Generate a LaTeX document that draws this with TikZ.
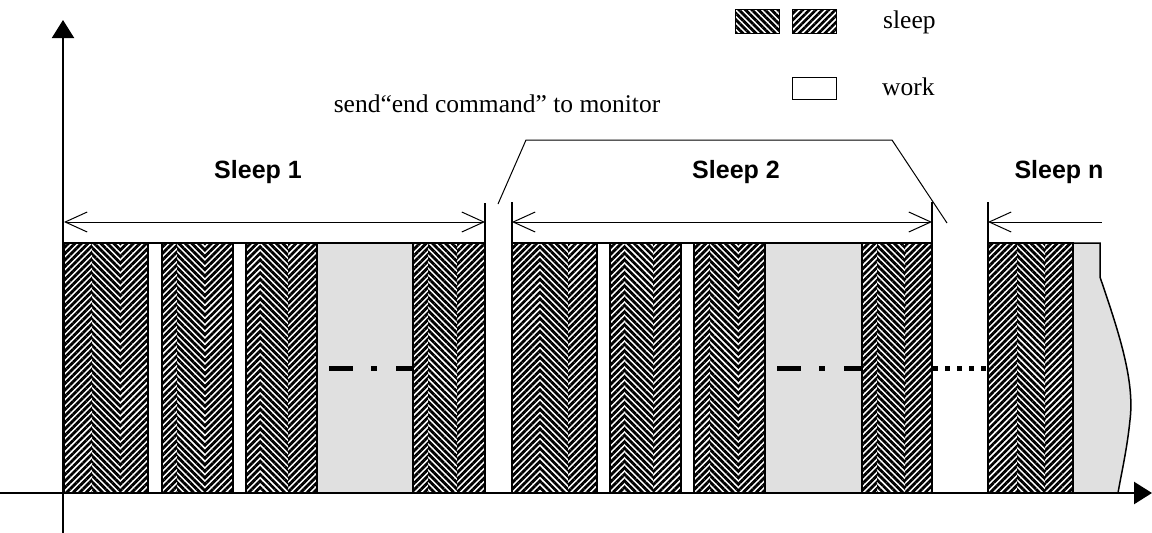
\documentclass[tikz,border=0pt]{standalone}
\usepackage{fontspec}
\setmainfont{Liberation Serif}
\setsansfont{Liberation Sans}
\usetikzlibrary{arrows.meta,patterns.meta}

\begin{document}
\begin{tikzpicture}[x=1pt,y=-1pt,
  axis/.style={line width=2.5pt,-{Triangle[length=18pt,width=22pt]}},
  dim/.style={line width=1pt,{Straight Barb[length=22pt,width=20pt,line width=1pt]}-{Straight Barb[length=22pt,width=20pt,line width=1pt]}},
  tick/.style={line width=1.5pt},
  frame/.style={draw,line width=1.5pt,fill=white},
  idle/.style={draw,line width=1.5pt,fill=black!12},
  hne/.style={pattern={Lines[angle=45,distance=4.6pt,line width=2.8pt]}},
  hnw/.style={pattern={Lines[angle=-45,distance=4.6pt,line width=2.8pt]}},
  lab/.style={font=\sffamily\bfseries\fontsize{25}{25}\selectfont},
  txt/.style={font=\fontsize{25.5}{25.5}\selectfont}]
\useasboundingbox (0,0) rectangle (1152,533);
% legend
\draw[line width=1pt,hnw] (735,9) rectangle (779,33);
\draw[line width=1pt,hne] (792,9) rectangle (836,33);
\node[txt,anchor=base west,inner sep=0pt] (lsleep) at (883,28) {sleep};
\draw[line width=1pt,fill=white] (792,77) rectangle (836,99);
\node[txt,anchor=base west,inner sep=0pt] (lwork) at (882,95) {work};
% frames of the sleep periods
\draw[frame] (64,243) rectangle (485,493);
\draw[frame] (512,243) rectangle (932,493);
\draw[idle] (317,243) rectangle (413,493);
\draw[idle] (765,243) rectangle (862,493);
\fill[black!12] (1073,243) -- (1100,243) -- (1100,277) .. controls (1118,330) and (1135,380) .. (1130,420) .. controls (1127,450) and (1121,475) .. (1118,493) -- (1073,493) -- cycle;
\draw[line width=1.5pt] (988,243) -- (1100,243) -- (1100,277) .. controls (1118,330) and (1135,380) .. (1130,420) .. controls (1127,450) and (1121,475) .. (1118,493);
% sleep bars (herringbone)
\foreach \xa/\xb/\xc/\xd in {64/92/120/148,162/177/205/233,246/260/288/317,413/428/457/485,
  512/540/568/597,610/625/653/681,694/710/738/765,862/877/905/932,988/1017/1045/1073}{
  \fill[white] (\xa,243) rectangle (\xd,493);
  \fill[hne] (\xa,243) rectangle (\xb,493);
  \fill[hnw] (\xb,243) rectangle (\xc,493);
  \fill[hne] (\xc,243) rectangle (\xd,493);
  \draw[line width=1.5pt] (\xa,243) rectangle (\xd,493);
}
% skipped periods
\draw[line width=5pt,dash pattern=on 24pt off 18pt on 6pt off 19pt on 30pt] (329,368) -- (413,368);
\draw[line width=5pt,dash pattern=on 24pt off 18pt on 6pt off 19pt on 30pt] (777,368) -- (862,368);
\draw[line width=5pt,dash pattern=on 5pt off 7pt] (933,368) -- (987,368);
% dimension lines
\coordinate (s1l) at (64,222); \coordinate (s1r) at (485,222);
\coordinate (s2l) at (512,222); \coordinate (s2r) at (932,222);
\coordinate (snl) at (988,222); \coordinate (snr) at (1102,222);
\draw[tick] (485,203) -- (485,243); \draw[tick] (512,202) -- (512,243);
\draw[tick] (932,202) -- (932,243); \draw[tick] (988,202) -- (988,243);
\draw[dim] (s1l) -- (s1r);
\draw[dim] (s2l) -- (s2r);
\draw[line width=1pt,{Straight Barb[length=22pt,width=20pt,line width=1pt]}-] (snl) -- (snr);
\node[lab,anchor=base] (sl1) at (258,178) {Sleep 1};
\node[lab,anchor=base] (sl2) at (736,178) {Sleep 2};
\node[lab,anchor=base] (sln) at (1059,178) {Sleep n};
% end command
\coordinate (e1) at (498,204); \coordinate (e2) at (526,140);
\coordinate (e3) at (892,140); \coordinate (e4) at (947,223);
\draw[line width=1pt] (e1) -- (e2) -- (e3) -- (e4);
\node[txt,anchor=base] (cmd) at (497,112) {send“end command” to monitor};
% axes
\draw[axis] (0,493) -- (1152,493);
\draw[axis,line width=2pt] (63,533) -- (63,20);
\end{tikzpicture}
\end{document}
